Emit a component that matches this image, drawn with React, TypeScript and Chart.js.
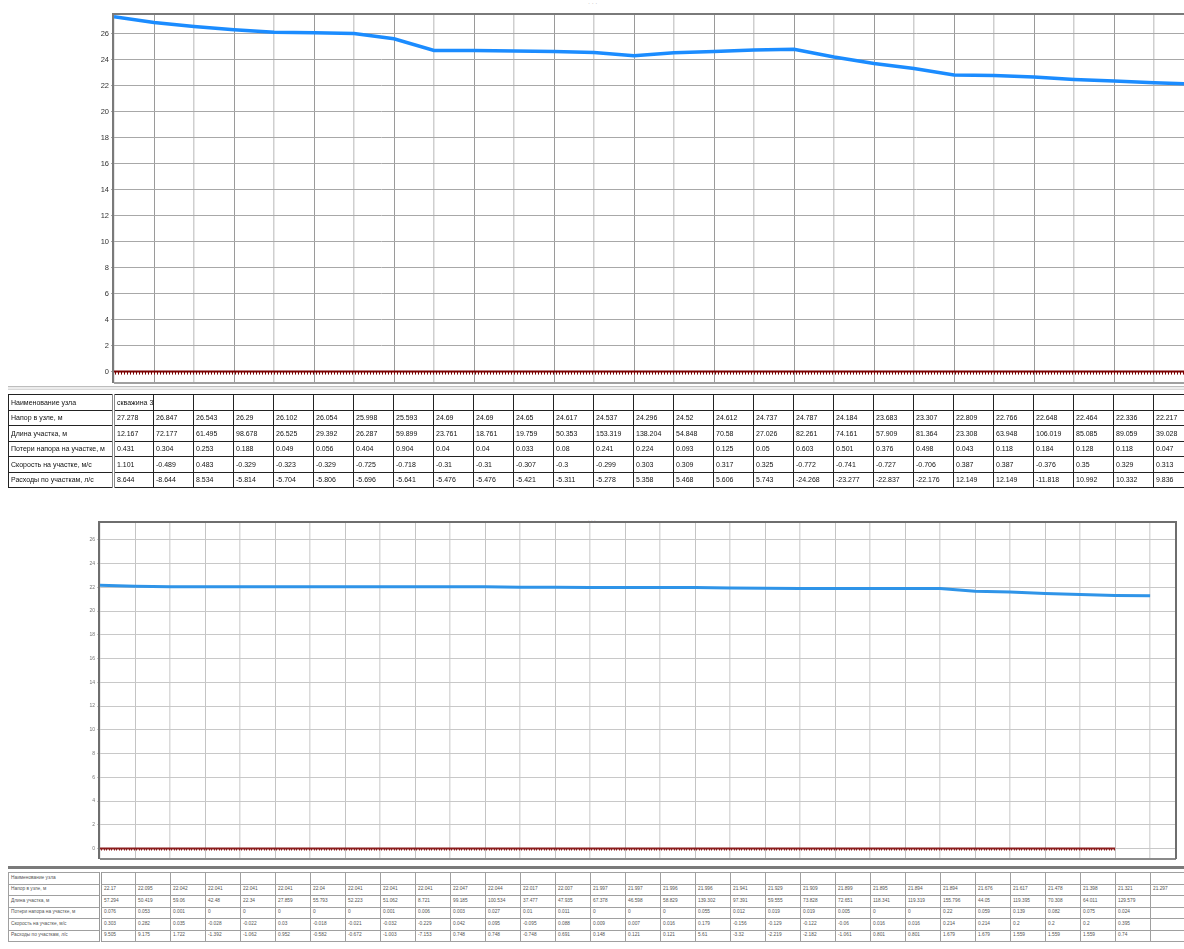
import React, { useEffect, useRef } from "react";
import { Chart, registerables } from "chart.js";

Chart.register(...registerables);

// ---------- data ----------
const ROW_LABELS = [
  "Наименование узла",
  "Напор в узле, м",
  "Длина участка, м",
  "Потери напора на участке, м",
  "Скорость на участке, м/с",
  "Расходы по участкам, л/с",
];

const Y_MIN = -0.8;
const Y_MAX = 27.42;
const Y_STEP = 2;

// upper profile
const TOP_NODE_NAMES = ["скважина 3"];
const TOP_HEAD = [27.278, 26.847, 26.543, 26.29, 26.102, 26.054, 25.998, 25.593, 24.69, 24.69, 24.65, 24.617, 24.537, 24.296, 24.52, 24.612, 24.737, 24.787, 24.184, 23.683, 23.307, 22.809, 22.766, 22.648, 22.464, 22.336, 22.217];
const TOP_HEAD_NEXT = 22.1; // next node, only partly visible at the right edge
const TOP_LENGTH = [12.167, 72.177, 61.495, 98.678, 26.525, 29.392, 26.287, 59.899, 23.761, 18.761, 19.759, 50.353, 153.319, 138.204, 54.848, 70.58, 27.026, 82.261, 74.161, 57.909, 81.364, 23.308, 63.948, 106.019, 85.085, 89.059, 39.028];
const TOP_LOSS = [0.431, 0.304, 0.253, 0.188, 0.049, 0.056, 0.404, 0.904, 0.04, 0.04, 0.033, 0.08, 0.241, 0.224, 0.093, 0.125, 0.05, 0.603, 0.501, 0.376, 0.498, 0.043, 0.118, 0.184, 0.128, 0.118, 0.047];
const TOP_VELOCITY = [1.101, -0.489, 0.483, -0.329, -0.323, -0.329, -0.725, -0.718, -0.31, -0.31, -0.307, -0.3, -0.299, 0.303, 0.309, 0.317, 0.325, -0.772, -0.741, -0.727, -0.706, 0.387, 0.387, -0.376, 0.35, 0.329, 0.313];
const TOP_FLOW = [8.644, -8.644, 8.534, -5.814, -5.704, -5.806, -5.696, -5.641, -5.476, -5.476, -5.421, -5.311, -5.278, 5.358, 5.468, 5.606, 5.743, -24.268, -23.277, -22.837, -22.176, 12.149, 12.149, -11.818, 10.992, 10.332, 9.836];
const TOP_PIPE_LAST_NODE = 27;
const TOP_X_MAX = 26.75;

// lower profile
const BOTTOM_NODE_NAMES: string[] = [];
const BOTTOM_HEAD = [22.17, 22.095, 22.042, 22.041, 22.041, 22.041, 22.04, 22.041, 22.041, 22.041, 22.047, 22.044, 22.017, 22.007, 21.997, 21.997, 21.996, 21.996, 21.941, 21.929, 21.909, 21.899, 21.895, 21.894, 21.894, 21.676, 21.617, 21.478, 21.398, 21.321, 21.297];
const BOTTOM_LENGTH = [57.294, 50.419, 59.06, 42.48, 22.34, 27.859, 55.793, 52.223, 51.062, 8.721, 99.185, 100.534, 37.477, 47.935, 67.378, 46.598, 58.829, 139.302, 97.391, 59.555, 73.828, 72.651, 118.341, 119.319, 155.796, 44.05, 119.395, 70.308, 64.011, 129.579];
const BOTTOM_LOSS = [0.076, 0.053, 0.001, 0, 0, 0, 0, 0, 0.001, 0.006, 0.003, 0.027, 0.01, 0.011, 0, 0, 0, 0.055, 0.012, 0.019, 0.019, 0.005, 0, 0, 0.22, 0.059, 0.139, 0.082, 0.075, 0.024];
const BOTTOM_VELOCITY = [0.303, 0.282, 0.035, -0.028, -0.022, 0.03, -0.018, -0.021, -0.032, -0.229, 0.042, 0.095, -0.095, 0.088, 0.009, 0.007, 0.016, 0.179, -0.156, -0.129, -0.122, -0.06, 0.016, 0.016, 0.214, 0.214, 0.2, 0.2, 0.2, 0.395];
const BOTTOM_FLOW = [9.505, 9.175, 1.722, -1.392, -1.062, 0.952, -0.582, -0.672, -1.003, -7.153, 0.748, 0.748, -0.748, 0.691, 0.148, 0.121, 0.121, 5.61, -3.32, -2.219, -2.182, -1.061, 0.801, 0.801, 1.679, 1.679, 1.559, 1.559, 1.559, 0.74];
const BOTTOM_PIPE_LAST_NODE = 29;
const BOTTOM_X_MAX = 30.74;

// ---------- plugins ----------
const framePlugin = {
  id: "frame",
  beforeDatasetsDraw(chart: any, _args: any, opts: any) {
    const { left, right, top, bottom } = chart.chartArea;
    const ctx = chart.ctx;
    ctx.save();
    ctx.lineWidth = 2;
    ctx.strokeStyle = opts.bottomColor;
    ctx.beginPath();
    ctx.moveTo(left, bottom + 1);
    ctx.lineTo(right, bottom + 1);
    ctx.stroke();
    ctx.strokeStyle = opts.color;
    ctx.beginPath();
    ctx.moveTo(left - 1, bottom + 1);
    ctx.lineTo(left - 1, top - 1);
    ctx.lineTo(right, top - 1);
    if (opts.right) ctx.lineTo(right, bottom + 1);
    ctx.stroke();
    ctx.restore();
  },
};

const combPlugin = {
  id: "comb",
  afterDatasetsDraw(chart: any, _args: any, opts: any) {
    const meta = chart.getDatasetMeta(1);
    if (!meta || meta.data.length < 2) return;
    const x0 = meta.data[0].x;
    const x1 = meta.data[meta.data.length - 1].x;
    const y = meta.data[0].y;
    const { left, right, top, bottom } = chart.chartArea;
    const ctx = chart.ctx;
    ctx.save();
    ctx.beginPath();
    ctx.rect(left, top, right - left, bottom - top + 6);
    ctx.clip();
    ctx.strokeStyle = opts.color;
    ctx.lineWidth = 1;
    ctx.beginPath();
    for (let x = x0 + 1; x <= x1; x += opts.gap) {
      const px = Math.round(x) + 0.5;
      ctx.moveTo(px, y);
      ctx.lineTo(px, y + opts.len);
    }
    ctx.stroke();
    ctx.restore();
  },
};

// ---------- chart ----------
type ChartProps = {
  head: number[];
  pipeLast: number;
  xMax: number;
  left: number;
  top: number;
  width: number;
  height: number;
  padTop: number;
  padRight: number;
  padBottom: number;
  axisWidth: number;
  lineColor: string;
  lineWidth: number;
  gridDark: string;
  gridLight: string;
  gridH: string;
  frameColor: string;
  frameBottom: string;
  frameRight: boolean;
  tickSize: number;
  tickColor: string;
  pipeColor: string;
  combLen: number;
  combGap: number;
};

function ProfileChart(p: ChartProps) {
  const ref = useRef<HTMLCanvasElement>(null);
  useEffect(() => {
    const chart = new Chart(ref.current as HTMLCanvasElement, {
      type: "line",
      data: {
        datasets: [
          {
            data: p.head.map((y, i) => ({ x: i, y })),
            borderColor: p.lineColor,
            borderWidth: p.lineWidth,
            pointRadius: 0,
            tension: 0,
            fill: false,
          },
          {
            data: [
              { x: 0, y: 0 },
              { x: p.pipeLast, y: 0 },
            ],
            borderColor: p.pipeColor,
            borderWidth: 2,
            pointRadius: 0,
            fill: false,
          },
        ],
      },
      options: {
        animation: false,
        responsive: false,
        devicePixelRatio: 1,
        events: [],
        layout: { padding: { top: p.padTop, right: p.padRight, bottom: p.padBottom, left: 0 } },
        plugins: {
          legend: { display: false },
          tooltip: { enabled: false },
          title: { display: false },
          frame: { color: p.frameColor, bottomColor: p.frameBottom, right: p.frameRight },
          comb: { color: p.pipeColor, len: p.combLen, gap: p.combGap },
        } as any,
        scales: {
          x: {
            type: "linear",
            position: "top",
            min: 0,
            max: p.xMax,
            ticks: { display: false, stepSize: 1, includeBounds: false },
            grid: {
              drawTicks: false,
              color: (c: any) => (c.tick && c.tick.value % 2 === 1 ? p.gridDark : p.gridLight),
              lineWidth: (c: any) => (c.tick && c.tick.value % 2 === 1 ? 1 : 1.5),
            },
            border: { display: false },
            afterFit: (s: any) => {
              s.height = 0;
            },
          },
          y: {
            type: "linear",
            min: Y_MIN,
            max: Y_MAX,
            ticks: {
              stepSize: Y_STEP,
              includeBounds: false,
              font: { family: '"Liberation Sans", Arial, sans-serif', size: p.tickSize },
              color: p.tickColor,
              padding: 2,
            },
            grid: { color: p.gridH, tickLength: 3, drawTicks: true },
            border: { display: false },
            afterFit: (s: any) => {
              s.width = p.axisWidth;
            },
          },
        },
      },
      plugins: [framePlugin, combPlugin],
    } as any);
    return () => chart.destroy();
  }, []);
  return (
    <canvas
      ref={ref}
      width={p.width}
      height={p.height}
      style={{ position: "absolute", left: p.left, top: p.top, width: p.width, height: p.height }}
    />
  );
}

// ---------- table ----------
type TableProps = {
  rows: (string | number)[][];
  left: number;
  top: number;
  width: number;
  labelWidth: number;
  colWidth: number;
  nCols: number;
  rowHeight: number;
  fontSize: number;
  color: string;
  borderColor: string;
  sepColor: string;
};

function DataTable(p: TableProps) {
  const cell: React.CSSProperties = {
    border: `1px solid ${p.borderColor}`,
    padding: "0 0 0 2px",
    whiteSpace: "nowrap",
    overflow: "hidden",
    lineHeight: 1,
    verticalAlign: "middle",
    height: p.rowHeight - 1,
  };
  return (
    <div
      style={{
        position: "absolute",
        left: p.left,
        top: p.top,
        width: p.width,
        height: p.rowHeight * ROW_LABELS.length + 2,
        overflow: "hidden",
      }}
    >
      <table
        style={{
          borderCollapse: "collapse",
          tableLayout: "fixed",
          width: p.labelWidth + p.nCols * p.colWidth,
          fontFamily: '"Liberation Sans", Arial, sans-serif',
          fontSize: p.fontSize,
          color: p.color,
        }}
      >
        <colgroup>
          <col style={{ width: p.labelWidth }} />
          {Array.from({ length: p.nCols }, (_, i) => (
            <col key={i} style={{ width: p.colWidth }} />
          ))}
        </colgroup>
        <tbody>
          {ROW_LABELS.map((label, r) => (
            <tr key={r} style={{ height: p.rowHeight }}>
              <td style={{ ...cell, borderRight: `3px double ${p.sepColor}` }}>{label}</td>
              {Array.from({ length: p.nCols }, (_, c) => (
                <td key={c} style={cell}>
                  {p.rows[r][c] !== undefined ? String(p.rows[r][c]) : ""}
                </td>
              ))}
            </tr>
          ))}
        </tbody>
      </table>
    </div>
  );
}

export default function App() {
  const topRows = [TOP_NODE_NAMES, TOP_HEAD, TOP_LENGTH, TOP_LOSS, TOP_VELOCITY, TOP_FLOW];
  const bottomRows = [BOTTOM_NODE_NAMES, BOTTOM_HEAD, BOTTOM_LENGTH, BOTTOM_LOSS, BOTTOM_VELOCITY, BOTTOM_FLOW];
  return (
    <div style={{ position: "absolute", left: 0, top: 0, width: 1184, height: 949, background: "#fff", overflow: "hidden" }}>
      <div style={{ position: "absolute", left: 588, top: 0, fontSize: 6, color: "#999", fontFamily: "Arial" }}>· · ·</div>
      <ProfileChart
        head={[...TOP_HEAD, TOP_HEAD_NEXT]}
        pipeLast={TOP_PIPE_LAST_NODE}
        xMax={TOP_X_MAX}
        left={0}
        top={0}
        width={1184}
        height={392}
        padTop={15}
        padRight={0}
        padBottom={10}
        axisWidth={114}
        lineColor="#1b8cff"
        lineWidth={3.5}
        gridDark="#9a9a9a"
        gridLight="#cfcfcf"
        gridH="#a8a8a8"
        frameColor="#7a7a7a"
        frameBottom="#a0a0a0"
        frameRight={false}
        tickSize={7.5}
        tickColor="#333"
        pipeColor="#7a0000"
        combLen={3}
        combGap={3}
      />
      <div
        style={{
          position: "absolute",
          left: 8,
          top: 386,
          width: 1176,
          height: 2,
          borderTop: "1px solid #bdbdbd",
          borderBottom: "1px solid #d8d8d8",
          background: "#ececec",
        }}
      />
      <DataTable
        rows={topRows}
        left={8}
        top={394}
        width={1176}
        labelWidth={105}
        colWidth={40}
        nCols={27}
        rowHeight={15.5}
        fontSize={7}
        color="#111"
        borderColor="#222"
        sepColor="#888"
      />

      <div style={{ position: "absolute", left: 588, top: 517, fontSize: 5, color: "#aaa", fontFamily: "Arial" }}>· · ·</div>
      <ProfileChart
        head={BOTTOM_HEAD}
        pipeLast={BOTTOM_PIPE_LAST_NODE}
        xMax={BOTTOM_X_MAX}
        left={0}
        top={500}
        width={1184}
        height={365}
        padTop={23}
        padRight={8}
        padBottom={7}
        axisWidth={100}
        lineColor="#2f94e8"
        lineWidth={3}
        gridDark="#c4c4c4"
        gridLight="#dadada"
        gridH="#c8c8c8"
        frameColor="#6e6e6e"
        frameBottom="#8a8a8a"
        frameRight={true}
        tickSize={5}
        tickColor="#777"
        pipeColor="#8a1c1c"
        combLen={2}
        combGap={2.5}
      />
      <div style={{ position: "absolute", left: 8, top: 866, width: 1176, height: 3, background: "#7a7a7a" }} />
      <DataTable
        rows={bottomRows}
        left={8}
        top={872}
        width={1176}
        labelWidth={92}
        colWidth={35}
        nCols={31}
        rowHeight={11.5}
        fontSize={4.8}
        color="#555"
        borderColor="#a0a0a0"
        sepColor="#999"
      />
    </div>
  );
}
